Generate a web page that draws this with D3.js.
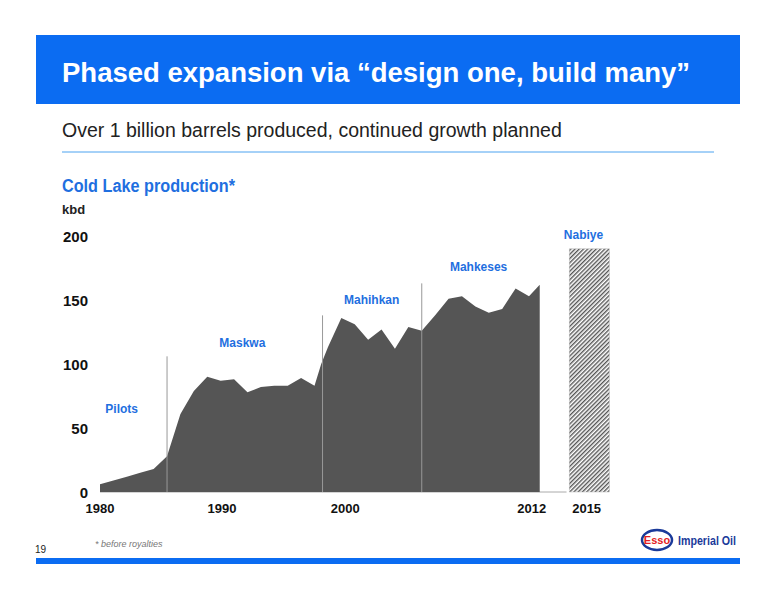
<!DOCTYPE html><html><head><meta charset="utf-8"><script src="https://cdn.jsdelivr.net/npm/d3@7"></script>
<style>body{margin:0;background:#fff}text{font-family:"Liberation Sans",Arial,sans-serif}</style></head><body>
<script>
const years=[1980,1981,1982,1983,1984,1985,1986,1987,1988,1989,1990,1991,1992,1993,1994,1995,1996,1996.5,1997,1998,1999,2000,2001,2002,2003,2004,2005,2006,2007,2008,2009,2010,2011,2012,2012.8];
const production=[6,9,12,15,18,28,61,79,90,87,88,78,82,83,83,89,83,100,113,136,131,119,127,112,129,126,138,151,153,145,140,143,159,153,162];
const phases=[{name:"Pilots",year:1980.4,y:62,line:null},{name:"Maskwa",year:1988.9,y:113,line:[1985,106]},{name:"Mahihkan",year:1998.2,y:147,line:[1996.6,138]},{name:"Mahkeses",year:2006.1,y:173,line:[2004,163]},{name:"Nabiye",year:2014.6,y:198,line:null}];
const planned={from:2015,to:2018,value:190};
const yTicks=[0,50,100,150,200];
const xTicks=[{y:1980,l:"1980"},{y:1989.1,l:"1990"},{y:1998.3,l:"2000"},{y:2012.2,l:"2012"},{y:2016.3,l:"2015"}];
const svg=d3.select("body").append("svg").attr("width",776).attr("height",600);
const blue="#0b6cf2",lbl="#1f6fe0";
svg.append("rect").attr("x",36).attr("y",35).attr("width",704).attr("height",69).attr("fill",blue);
svg.append("text").attr("x",62).attr("y",82).attr("fill","#fff").attr("font-size",27.5).attr("font-weight","bold").text("Phased expansion via “design one, build many”");
svg.append("text").attr("x",62).attr("y",137).attr("font-size",19.5).attr("fill","#222").text("Over 1 billion barrels produced, continued growth planned");
svg.append("line").attr("x1",62).attr("x2",714).attr("y1",152).attr("y2",152).attr("stroke","#4da3f0").attr("stroke-width",1);
svg.append("text").attr("x",62).attr("y",192).attr("font-size",18).attr("font-weight","bold").attr("fill",lbl).attr("textLength",173).attr("lengthAdjust","spacingAndGlyphs").text("Cold Lake production*");
svg.append("text").attr("x",62).attr("y",214).attr("font-size",13).attr("font-weight","bold").attr("fill","#222").text("kbd");
const x=d3.scaleLinear().domain([1980,2012]).range([100,529]);
const y=d3.scaleLinear().domain([0,200]).range([492,236]);
const defs=svg.append("defs");
const p=defs.append("pattern").attr("id","h").attr("patternUnits","userSpaceOnUse").attr("width",3).attr("height",3).attr("patternTransform","rotate(45)");
p.append("rect").attr("width",3).attr("height",3).attr("fill","#fff");
p.append("rect").attr("width",1.4).attr("height",3).attr("fill","#555");
svg.append("line").attr("x1",x(1980)).attr("x2",x(2014.8)).attr("y1",y(0)).attr("y2",y(0)).attr("stroke","#aaa");
svg.append("path").datum(years.map((d,i)=>[d,production[i]])).attr("fill","#555")
 .attr("d",d3.area().x(d=>x(d[0])).y0(y(0)).y1(d=>y(d[1])));
svg.append("rect").attr("x",x(planned.from)).attr("width",x(planned.to)-x(planned.from)).attr("y",y(planned.value)).attr("height",y(0)-y(planned.value)).attr("fill","url(#h)").attr("stroke","#bbb").attr("stroke-width",0.5);
phases.forEach(ph=>{
 if(ph.line)svg.append("line").attr("x1",x(ph.line[0])).attr("x2",x(ph.line[0])).attr("y1",y(0)).attr("y2",y(ph.line[1])).attr("stroke","#999").attr("stroke-width",1);
 svg.append("text").attr("x",x(ph.year)).attr("y",y(ph.y)).attr("font-size",12).attr("font-weight","bold").attr("fill",lbl).text(ph.name);
});
yTicks.forEach(t=>svg.append("text").attr("x",88).attr("y",y(t)+6).attr("text-anchor","end").attr("font-size",15).attr("font-weight","bold").attr("fill","#111").text(t));
xTicks.forEach(t=>svg.append("text").attr("x",x(t.y)).attr("y",513).attr("text-anchor","middle").attr("font-size",13).attr("font-weight","bold").attr("fill","#111").text(t.l));
svg.append("text").attr("x",35).attr("y",553).attr("font-size",10).attr("fill","#222").text("19");
svg.append("text").attr("x",95).attr("y",547).attr("font-size",9).attr("font-style","italic").attr("fill","#777").text("* before royalties");
svg.append("rect").attr("x",36).attr("y",558).attr("width",704).attr("height",6).attr("fill",blue);
svg.append("ellipse").attr("cx",657).attr("cy",540).attr("rx",15).attr("ry",10).attr("fill","#fff").attr("stroke","#1a3a9a").attr("stroke-width",2.5);
svg.append("text").attr("x",657).attr("y",544).attr("text-anchor","middle").attr("font-size",11).attr("font-weight","bold").attr("fill","#e31c23").text("Esso");
svg.append("text").attr("x",678).attr("y",545).attr("font-size",12).attr("font-weight","bold").attr("fill","#1a3a9a").attr("textLength",58).attr("lengthAdjust","spacingAndGlyphs").text("Imperial Oil");
</script></body></html>
